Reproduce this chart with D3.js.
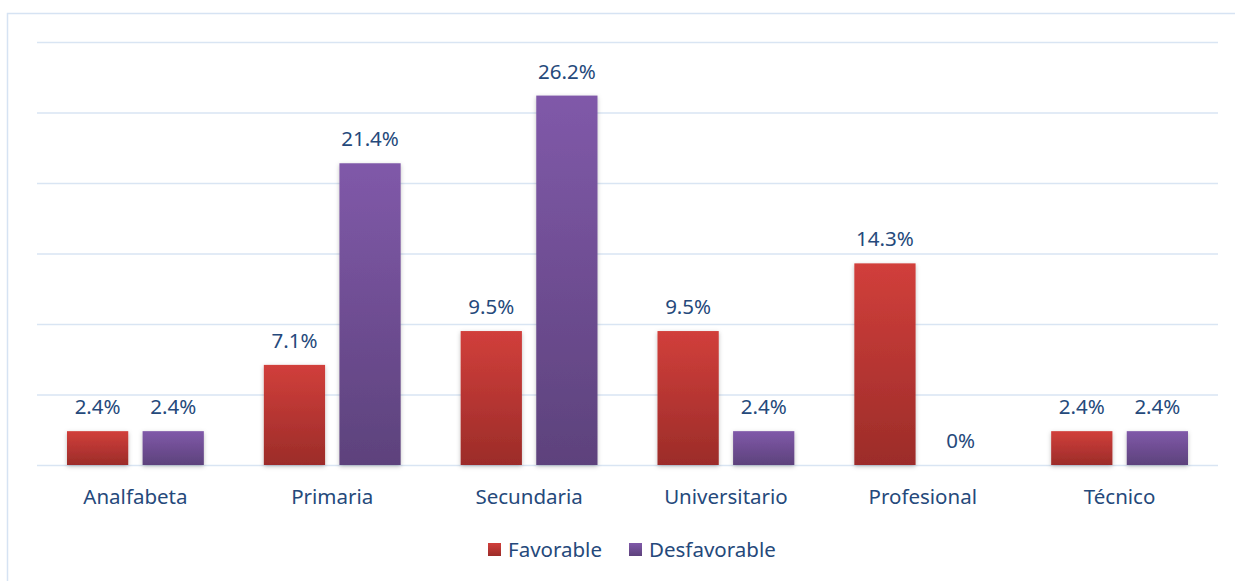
<!DOCTYPE html>
<html>
<head>
<meta charset="utf-8">
<script src="https://cdn.jsdelivr.net/npm/d3@7"></script>
<style>
  html, body { margin: 0; padding: 0; background: #fff; }
  svg { display: block; font-family: "Noto Sans", "Open Sans", sans-serif; }
</style>
</head>
<body>
<svg id="chart" width="1235" height="581"></svg>
<script>
// data
const categories = [ "Analfabeta", "Primaria", "Secundaria", "Universitario", "Profesional", "Técnico" ];
const seriesNames = [ "Favorable", "Desfavorable" ];
const favorable = [ 2.4, 7.1, 9.5, 9.5, 14.3, 2.4 ];
const desfavorable = [ 2.4, 21.4, 26.2, 2.4, 0, 2.4 ];
const yTicks = [ 0, 5, 10, 15, 20, 25, 30 ];

const textColor = "#25497b";
const fontSize = "20.5px";
const svg = d3.select( "#chart" );

const margin = { left: 37, right: 17, top: 42, bottom: 116 };
const width = 1235 - margin.left - margin.right;
const height = 581 - margin.top - margin.bottom;

// chart frame
svg.append( "rect" )
  .attr( "x", 7.5 ).attr( "y", 13.5 )
  .attr( "width", 1240 ).attr( "height", 600 )
  .attr( "fill", "none" )
  .attr( "stroke", "#d6e3f3" )
  .attr( "stroke-width", 1.5 );

const defs = svg.append( "defs" );
const grads = [
  { id: "gFav", top: "#d13f3b", bottom: "#9c2c29" },
  { id: "gDes", top: "#8059a9", bottom: "#5d427c" }
];
grads.forEach( g => {
  const lg = defs.append( "linearGradient" )
    .attr( "id", g.id ).attr( "x1", 0 ).attr( "y1", 0 ).attr( "x2", 0 ).attr( "y2", 1 );
  lg.append( "stop" ).attr( "offset", "0%" ).attr( "stop-color", g.top );
  lg.append( "stop" ).attr( "offset", "100%" ).attr( "stop-color", g.bottom );
} );
const shadow = defs.append( "filter" ).attr( "id", "shadow" )
  .attr( "x", "-20%" ).attr( "y", "-20%" ).attr( "width", "140%" ).attr( "height", "140%" );
shadow.append( "feDropShadow" )
  .attr( "dx", 0 ).attr( "dy", 1.5 ).attr( "stdDeviation", 2 )
  .attr( "flood-color", "#000" ).attr( "flood-opacity", 0.25 );

const g = svg.append( "g" ).attr( "transform", `translate(${margin.left},${margin.top})` );

const x0 = d3.scaleBand()
  .domain( categories )
  .range( [ 0, width ] )
  .paddingInner( 0 )
  .paddingOuter( 0 );

const x1 = d3.scaleBand()
  .domain( seriesNames )
  .range( [ 30, x0.bandwidth() - 30 ] )
  .paddingInner( 13 / 68.5 );

const y = d3.scaleLinear()
  .domain( [ 0, 30 ] )
  .range( [ height, 0 ] );

// gridlines
g.append( "g" )
  .attr( "class", "grid" )
  .call( d3.axisLeft( y ).tickValues( yTicks ).tickSize( -width ).tickFormat( "" ) )
  .call( a => a.select( ".domain" ).remove() )
  .call( a => a.selectAll( "line" ).attr( "stroke", "#d9e5f3" ).attr( "stroke-width", 1.5 ) );

// category labels
g.append( "g" )
  .attr( "transform", `translate(0,${height})` )
  .call( d3.axisBottom( x0 ).tickSize( 0 ).tickPadding( 24 ) )
  .call( a => a.select( ".domain" ).remove() )
  .call( a => a.selectAll( "text" )
    .attr( "fill", textColor )
    .style( "font-size", fontSize )
    .style( "font-family", "\"Noto Sans\", sans-serif" ) );

const rows = categories.map( ( c, i ) => ( {
  cat: c,
  vals: [
    { key: "Favorable", v: favorable[ i ], fill: "url(#gFav)" },
    { key: "Desfavorable", v: desfavorable[ i ], fill: "url(#gDes)" }
  ]
} ) );

const groups = g.selectAll( "g.cat" )
  .data( rows )
  .enter()
  .append( "g" )
  .attr( "class", "cat" )
  .attr( "transform", d => `translate(${x0( d.cat )},0)` );

groups.selectAll( "rect" )
  .data( d => d.vals.filter( v => v.v > 0 ) )
  .enter()
  .append( "rect" )
  .attr( "x", d => x1( d.key ) )
  .attr( "y", d => y( d.v ) )
  .attr( "width", x1.bandwidth() )
  .attr( "height", d => height - y( d.v ) )
  .attr( "fill", d => d.fill )
  .attr( "filter", "url(#shadow)" );

groups.selectAll( "text.val" )
  .data( d => d.vals )
  .enter()
  .append( "text" )
  .attr( "class", "val" )
  .attr( "x", d => x1( d.key ) + x1.bandwidth() / 2 )
  .attr( "y", d => y( d.v ) - 17 )
  .attr( "text-anchor", "middle" )
  .attr( "fill", textColor )
  .style( "font-size", fontSize )
  .text( d => d.v + "%" );

// legend
const legend = svg.append( "g" ).attr( "transform", "translate(488,543)" );
const legendX = [ 0, 141 ];
const legendFill = [ "url(#gFav)", "url(#gDes)" ];
seriesNames.forEach( ( s, i ) => {
  const item = legend.append( "g" ).attr( "transform", `translate(${legendX[ i ]},0)` );
  item.append( "rect" )
    .attr( "width", 13 ).attr( "height", 13 )
    .attr( "fill", legendFill[ i ] );
  item.append( "text" )
    .attr( "x", 20 ).attr( "y", 14 )
    .attr( "fill", textColor )
    .style( "font-size", fontSize )
    .text( s );
} );
</script>
</body>
</html>
